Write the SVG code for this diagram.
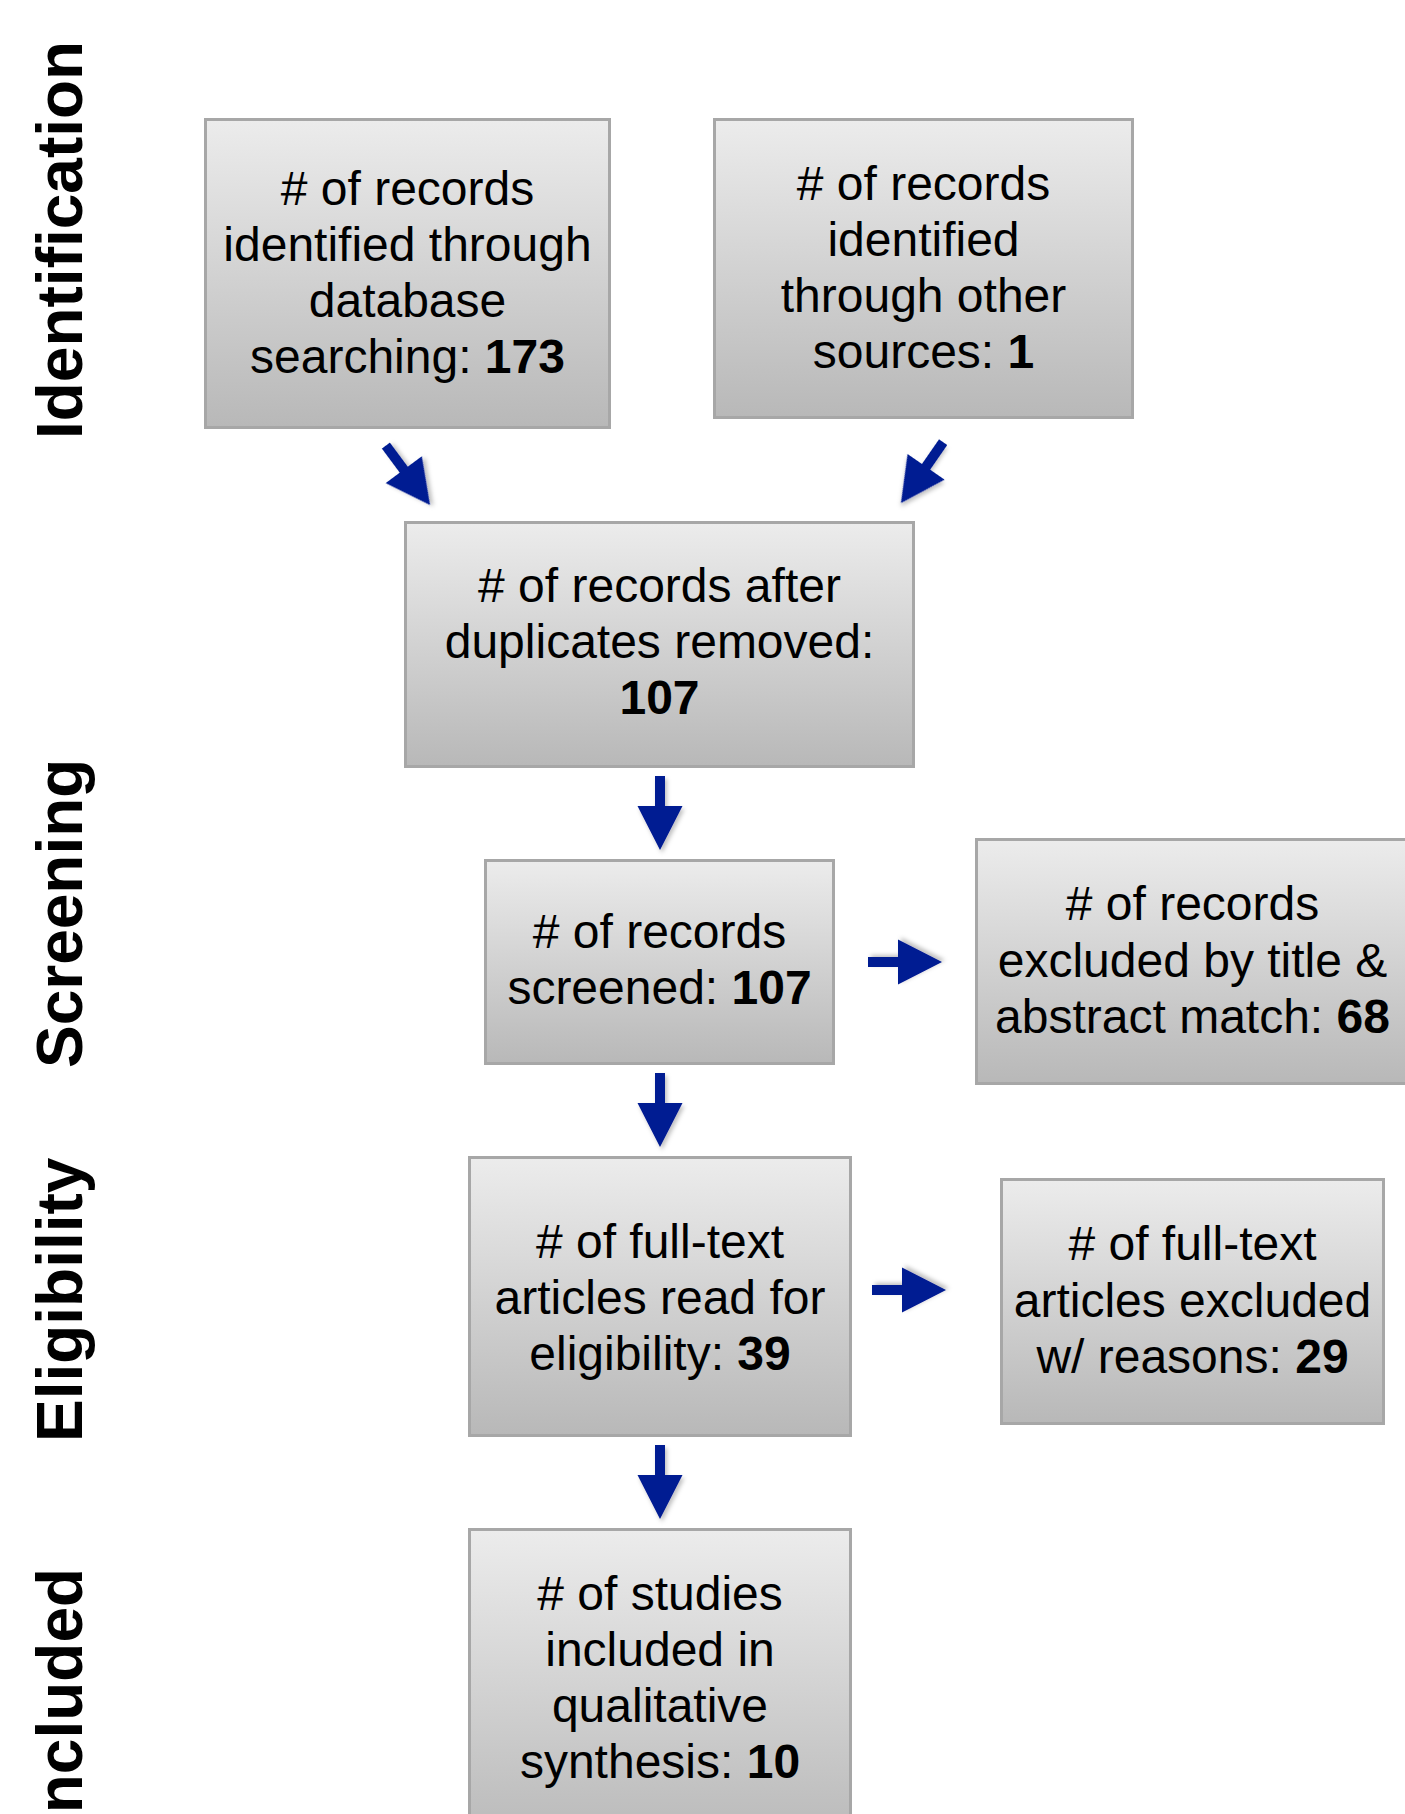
<svg xmlns="http://www.w3.org/2000/svg" width="1405" height="1814" viewBox="0 0 1405 1814">
<defs>
<linearGradient id="g" x1="0" y1="0" x2="0" y2="1">
<stop offset="0" stop-color="#ececec"/>
<stop offset="1" stop-color="#b8b8b8"/>
</linearGradient>
<filter id="sh" x="-30%" y="-30%" width="160%" height="160%">
<feDropShadow dx="2" dy="3" stdDeviation="2" flood-color="#000" flood-opacity="0.25"/>
</filter>
<path id="arr" d="M-5,-74 L5,-74 L5,-44 L22.5,-44 L0,0 L-22.5,-44 L-5,-44 Z"/>
</defs>
<style>
.box{fill:url(#g);stroke:#a7a7a7;stroke-width:3}
.t{font-family:"Liberation Sans",Arial,sans-serif;font-size:48px;fill:#000;text-anchor:middle}
.b{font-weight:bold}
.lab{font-family:"Liberation Sans",Arial,sans-serif;font-size:64px;font-weight:bold;fill:#000}
.a{fill:#031a92;filter:url(#sh)}
</style>
<rect width="1405" height="1814" fill="#fff"/>
<g id="labels">
<text class="lab" transform="translate(82,439) rotate(-90)">Identification</text>
<text class="lab" transform="translate(82,1068) rotate(-90)">Screening</text>
<text class="lab" transform="translate(82,1442) rotate(-90)">Eligibility</text>
<text class="lab" transform="translate(82,1831) rotate(-90)">Included</text>
</g>
<g id="n1">
<rect class="box" x="205.5" y="119.5" width="404" height="308"/>
<text class="t"><tspan x="407.5" y="205"># of records</tspan><tspan x="407.5" y="261">identified through</tspan><tspan x="407.5" y="317">database</tspan><tspan x="407.5" y="373">searching: <tspan class="b">173</tspan></tspan></text>
</g>
<g id="n2">
<rect class="box" x="714.5" y="119.5" width="418" height="298"/>
<text class="t"><tspan x="923.5" y="200"># of records</tspan><tspan x="923.5" y="256">identified</tspan><tspan x="923.5" y="312">through other</tspan><tspan x="923.5" y="368">sources: <tspan class="b">1</tspan></tspan></text>
</g>
<g id="n3">
<rect class="box" x="405.5" y="522.5" width="508" height="244"/>
<text class="t"><tspan x="659.5" y="602"># of records after</tspan><tspan x="659.5" y="658">duplicates removed:</tspan><tspan x="659.5" y="714" class="b">107</tspan></text>
</g>
<g id="n4">
<rect class="box" x="485.5" y="860.5" width="348" height="203"/>
<text class="t"><tspan x="659.5" y="948"># of records</tspan><tspan x="659.5" y="1004">screened: <tspan class="b">107</tspan></tspan></text>
</g>
<g id="n5">
<rect class="box" x="976.5" y="839.5" width="433" height="244"/>
<text class="t"><tspan x="1192.5" y="920"># of records</tspan><tspan x="1192.5" y="977">excluded by title &amp;</tspan><tspan x="1192.5" y="1033">abstract match: <tspan class="b">68</tspan></tspan></text>
</g>
<g id="n6">
<rect class="box" x="469.5" y="1157.5" width="381" height="278"/>
<text class="t"><tspan x="660" y="1258"># of full-text</tspan><tspan x="660" y="1314">articles read for</tspan><tspan x="660" y="1370">eligibility: <tspan class="b">39</tspan></tspan></text>
</g>
<g id="n7">
<rect class="box" x="1001.5" y="1179.5" width="382" height="244"/>
<text class="t"><tspan x="1192.5" y="1260"># of full-text</tspan><tspan x="1192.5" y="1317">articles excluded</tspan><tspan x="1192.5" y="1373">w/ reasons: <tspan class="b">29</tspan></tspan></text>
</g>
<g id="n8">
<rect class="box" x="469.5" y="1529.5" width="381" height="320"/>
<text class="t"><tspan x="660" y="1610"># of studies</tspan><tspan x="660" y="1666">included in</tspan><tspan x="660" y="1722">qualitative</tspan><tspan x="660" y="1778">synthesis: <tspan class="b">10</tspan></tspan></text>
</g>
<g id="connectors">
<use href="#arr" class="a" transform="translate(430,505) rotate(-36.6)"/>
<use href="#arr" class="a" transform="translate(901,503) rotate(34.7)"/>
<use href="#arr" class="a" transform="translate(660,850)"/>
<use href="#arr" class="a" transform="translate(660,1147)"/>
<use href="#arr" class="a" transform="translate(660,1519)"/>
<use href="#arr" class="a" transform="translate(942,962) rotate(-90)"/>
<use href="#arr" class="a" transform="translate(946,1290) rotate(-90)"/>
</g>
</svg>
